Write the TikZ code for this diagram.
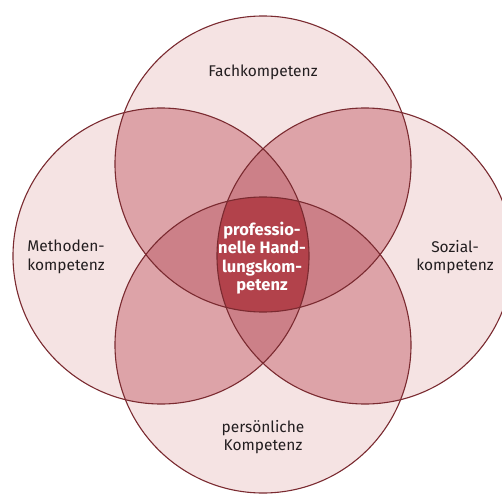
\documentclass[tikz,border=0pt]{standalone}
\usepackage{fontspec}
\setmainfont{Fira Sans}
\definecolor{one}{HTML}{F5E3E3}
\definecolor{two}{HTML}{DDA3A8}
\definecolor{three}{HTML}{CC8088}
\definecolor{four}{HTML}{B2424B}
\definecolor{edge}{HTML}{7A2A30}
\definecolor{txt}{HTML}{231E20}
\begin{document}
\begin{tikzpicture}[x=1pt,y=-1pt,
  lbl/.style={align=center,text=txt,font=\fontsize{15.5}{18.5}\selectfont},
  ctr/.style={align=center,text=white,font=\fontsize{16.5}{18.5}\selectfont\bfseries},
  ring/.style={draw=edge,line width=1.1pt}]
\useasboundingbox (0,0) rectangle (502,494);
\coordinate (T) at (263,164);
\coordinate (B) at (263,345);
\coordinate (L) at (161,256);
\coordinate (R) at (365,256);
\def\rr{148pt}
% single
\fill[one] (T) circle[radius=\rr] (B) circle[radius=\rr] (L) circle[radius=\rr] (R) circle[radius=\rr];
% pairs
\begin{scope}\clip (T) circle[radius=\rr];
  \fill[two] (B) circle[radius=\rr] (L) circle[radius=\rr] (R) circle[radius=\rr];
\end{scope}
\begin{scope}\clip (B) circle[radius=\rr];
  \fill[two] (L) circle[radius=\rr] (R) circle[radius=\rr];
\end{scope}
\begin{scope}\clip (L) circle[radius=\rr];
  \fill[two] (R) circle[radius=\rr];
\end{scope}
% triples
\begin{scope}\clip (T) circle[radius=\rr]; \clip (B) circle[radius=\rr];
  \fill[three] (L) circle[radius=\rr] (R) circle[radius=\rr];
\end{scope}
\begin{scope}\clip (L) circle[radius=\rr]; \clip (R) circle[radius=\rr];
  \fill[three] (T) circle[radius=\rr] (B) circle[radius=\rr];
\end{scope}
% quadruple
\begin{scope}\clip (T) circle[radius=\rr]; \clip (B) circle[radius=\rr]; \clip (L) circle[radius=\rr];
  \fill[four] (R) circle[radius=\rr];
\end{scope}
% outlines
\draw[ring] (T) circle[radius=\rr];
\draw[ring] (B) circle[radius=\rr];
\draw[ring] (L) circle[radius=\rr];
\draw[ring] (R) circle[radius=\rr];
% labels
\node[lbl] (fach) at (263,72) {Fachkompetenz};
\node[lbl] (meth) at (66,257) {Methoden-\\kompetenz};
\node[lbl] (soz) at (455,257) {Sozial-\\kompetenz};
\node[lbl] (pers) at (263,437) {persönliche\\Kompetenz};
\node[ctr] (prof) at (262,258) {professio-\\nelle Hand-\\lungskom-\\petenz};
\end{tikzpicture}
\end{document}
